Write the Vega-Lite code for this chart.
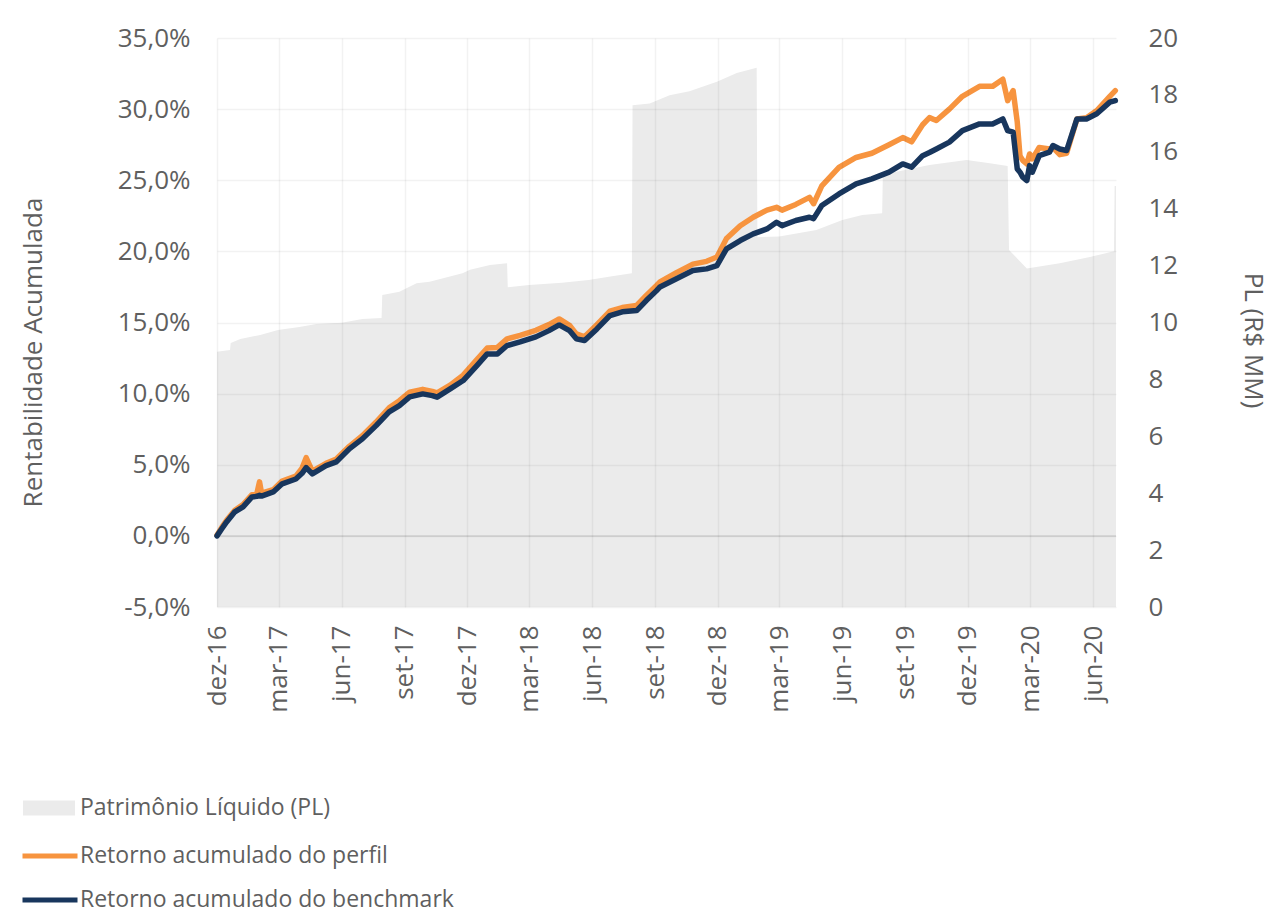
{
  "$schema": "https://vega.github.io/schema/vega-lite/v6.json",
  "width": 899,
  "height": 569,
  "autosize": {"type": "none"},
  "padding": {"left": 217, "top": 38, "right": 158, "bottom": 307},
  "background": "white",
  "config": {
    "view": {"stroke": null},
    "font": "Open Sans",
    "axis": {
      "labelFont": "Open Sans", "titleFont": "Open Sans",
      "labelColor": "#5f5f5f", "titleColor": "#5f5f5f",
      "labelFontSize": 26, "titleFontSize": 26, "titleFontWeight": "normal",
      "ticks": false, "domain": false,
      "gridColor": "#000000", "gridOpacity": 0.05, "gridWidth": 1.5
    }
  },
  "datasets": {
    "pl": [
      {"date": "2016-12-01", "pl": 8.97},
      {"date": "2016-12-20", "pl": 9.03},
      {"date": "2016-12-21", "pl": 9.28},
      {"date": "2017-01-04", "pl": 9.42},
      {"date": "2017-02-02", "pl": 9.56},
      {"date": "2017-02-28", "pl": 9.74},
      {"date": "2017-03-31", "pl": 9.84},
      {"date": "2017-04-25", "pl": 9.95},
      {"date": "2017-06-01", "pl": 9.99},
      {"date": "2017-07-01", "pl": 10.12},
      {"date": "2017-07-29", "pl": 10.16},
      {"date": "2017-07-30", "pl": 10.97},
      {"date": "2017-08-24", "pl": 11.08},
      {"date": "2017-09-18", "pl": 11.38},
      {"date": "2017-10-07", "pl": 11.43},
      {"date": "2017-11-24", "pl": 11.73},
      {"date": "2017-12-05", "pl": 11.85},
      {"date": "2018-01-03", "pl": 12.02},
      {"date": "2018-01-28", "pl": 12.08},
      {"date": "2018-01-29", "pl": 11.24},
      {"date": "2018-03-01", "pl": 11.32},
      {"date": "2018-04-18", "pl": 11.40},
      {"date": "2018-05-27", "pl": 11.49},
      {"date": "2018-06-30", "pl": 11.63},
      {"date": "2018-07-29", "pl": 11.73},
      {"date": "2018-07-30", "pl": 17.64},
      {"date": "2018-08-24", "pl": 17.70},
      {"date": "2018-09-22", "pl": 17.99},
      {"date": "2018-10-21", "pl": 18.13},
      {"date": "2018-11-30", "pl": 18.46},
      {"date": "2018-12-29", "pl": 18.77},
      {"date": "2019-01-27", "pl": 18.95},
      {"date": "2019-01-28", "pl": 13.0},
      {"date": "2019-03-01", "pl": 13.02},
      {"date": "2019-04-24", "pl": 13.25},
      {"date": "2019-06-01", "pl": 13.60},
      {"date": "2019-06-30", "pl": 13.78},
      {"date": "2019-07-29", "pl": 13.84},
      {"date": "2019-07-30", "pl": 15.2},
      {"date": "2019-10-06", "pl": 15.54},
      {"date": "2019-11-29", "pl": 15.71},
      {"date": "2020-01-02", "pl": 15.6},
      {"date": "2020-01-28", "pl": 15.5},
      {"date": "2020-01-30", "pl": 12.55},
      {"date": "2020-02-25", "pl": 11.9},
      {"date": "2020-04-13", "pl": 12.08},
      {"date": "2020-05-27", "pl": 12.3},
      {"date": "2020-06-28", "pl": 12.49},
      {"date": "2020-07-01", "pl": 12.5},
      {"date": "2020-07-02", "pl": 14.8},
      {"date": "2020-07-04", "pl": 14.8}
    ],
    "ret": [
      {"date": "2016-12-01", "perfil": 0.05, "benchmark": 0.0},
      {"date": "2016-12-08", "perfil": 0.6, "benchmark": 0.5},
      {"date": "2016-12-15", "perfil": 1.1, "benchmark": 0.98},
      {"date": "2016-12-27", "perfil": 1.8, "benchmark": 1.69},
      {"date": "2017-01-08", "perfil": 2.2, "benchmark": 2.04},
      {"date": "2017-01-21", "perfil": 2.9, "benchmark": 2.74},
      {"date": "2017-01-28", "perfil": 2.95, "benchmark": 2.78},
      {"date": "2017-02-01", "perfil": 3.8, "benchmark": 2.85},
      {"date": "2017-02-04", "perfil": 3.0, "benchmark": 2.8},
      {"date": "2017-02-21", "perfil": 3.25, "benchmark": 3.09},
      {"date": "2017-03-06", "perfil": 3.85, "benchmark": 3.66},
      {"date": "2017-03-26", "perfil": 4.2, "benchmark": 4.0},
      {"date": "2017-04-04", "perfil": 4.75, "benchmark": 4.4},
      {"date": "2017-04-10", "perfil": 5.5, "benchmark": 4.8},
      {"date": "2017-04-19", "perfil": 4.55, "benchmark": 4.36},
      {"date": "2017-05-09", "perfil": 5.1, "benchmark": 4.94},
      {"date": "2017-05-24", "perfil": 5.4, "benchmark": 5.2},
      {"date": "2017-06-12", "perfil": 6.3, "benchmark": 6.12},
      {"date": "2017-07-01", "perfil": 7.05, "benchmark": 6.82},
      {"date": "2017-07-21", "perfil": 8.0, "benchmark": 7.75},
      {"date": "2017-08-09", "perfil": 9.0, "benchmark": 8.72},
      {"date": "2017-08-24", "perfil": 9.5, "benchmark": 9.16},
      {"date": "2017-09-08", "perfil": 10.1, "benchmark": 9.77},
      {"date": "2017-09-27", "perfil": 10.3, "benchmark": 9.98},
      {"date": "2017-10-11", "perfil": 10.15, "benchmark": 9.86},
      {"date": "2017-10-18", "perfil": 10.05, "benchmark": 9.75},
      {"date": "2017-11-06", "perfil": 10.6, "benchmark": 10.33},
      {"date": "2017-11-25", "perfil": 11.3, "benchmark": 10.92},
      {"date": "2017-12-15", "perfil": 12.4, "benchmark": 11.97},
      {"date": "2017-12-30", "perfil": 13.2, "benchmark": 12.79},
      {"date": "2018-01-14", "perfil": 13.25, "benchmark": 12.79},
      {"date": "2018-01-28", "perfil": 13.85, "benchmark": 13.38},
      {"date": "2018-02-16", "perfil": 14.1, "benchmark": 13.64},
      {"date": "2018-03-11", "perfil": 14.45, "benchmark": 13.99},
      {"date": "2018-03-30", "perfil": 14.85, "benchmark": 14.43},
      {"date": "2018-04-14", "perfil": 15.25, "benchmark": 14.83},
      {"date": "2018-04-29", "perfil": 14.8, "benchmark": 14.43},
      {"date": "2018-05-09", "perfil": 14.2, "benchmark": 13.85},
      {"date": "2018-05-21", "perfil": 14.0, "benchmark": 13.73},
      {"date": "2018-06-08", "perfil": 14.85, "benchmark": 14.55},
      {"date": "2018-06-27", "perfil": 15.8, "benchmark": 15.49},
      {"date": "2018-07-15", "perfil": 16.05, "benchmark": 15.75},
      {"date": "2018-08-05", "perfil": 16.2, "benchmark": 15.84},
      {"date": "2018-08-19", "perfil": 16.9, "benchmark": 16.54},
      {"date": "2018-09-03", "perfil": 17.6, "benchmark": 17.24},
      {"date": "2018-09-08", "perfil": 17.85, "benchmark": 17.5},
      {"date": "2018-10-02", "perfil": 18.5, "benchmark": 18.07},
      {"date": "2018-10-26", "perfil": 19.1, "benchmark": 18.65},
      {"date": "2018-11-15", "perfil": 19.3, "benchmark": 18.77},
      {"date": "2018-11-30", "perfil": 19.6, "benchmark": 19.0},
      {"date": "2018-12-14", "perfil": 20.9, "benchmark": 20.18},
      {"date": "2019-01-03", "perfil": 21.8, "benchmark": 20.76},
      {"date": "2019-01-22", "perfil": 22.4, "benchmark": 21.23},
      {"date": "2019-02-11", "perfil": 22.9, "benchmark": 21.58},
      {"date": "2019-02-25", "perfil": 23.1, "benchmark": 22.05},
      {"date": "2019-03-05", "perfil": 22.9, "benchmark": 21.81},
      {"date": "2019-03-25", "perfil": 23.3, "benchmark": 22.17},
      {"date": "2019-04-14", "perfil": 23.8, "benchmark": 22.4},
      {"date": "2019-04-20", "perfil": 23.35, "benchmark": 22.3},
      {"date": "2019-05-02", "perfil": 24.6, "benchmark": 23.22},
      {"date": "2019-05-27", "perfil": 25.9, "benchmark": 24.04},
      {"date": "2019-06-21", "perfil": 26.6, "benchmark": 24.75},
      {"date": "2019-07-14", "perfil": 26.9, "benchmark": 25.1},
      {"date": "2019-08-08", "perfil": 27.5, "benchmark": 25.57},
      {"date": "2019-08-28", "perfil": 28.0, "benchmark": 26.15},
      {"date": "2019-09-10", "perfil": 27.7, "benchmark": 25.92},
      {"date": "2019-09-26", "perfil": 28.9, "benchmark": 26.73},
      {"date": "2019-10-06", "perfil": 29.4, "benchmark": 26.95},
      {"date": "2019-10-16", "perfil": 29.2, "benchmark": 27.2},
      {"date": "2019-11-04", "perfil": 30.0, "benchmark": 27.68},
      {"date": "2019-11-23", "perfil": 30.9, "benchmark": 28.49},
      {"date": "2019-12-18", "perfil": 31.6, "benchmark": 28.96},
      {"date": "2020-01-06", "perfil": 31.6, "benchmark": 28.96},
      {"date": "2020-01-21", "perfil": 32.1, "benchmark": 29.31},
      {"date": "2020-01-28", "perfil": 30.6, "benchmark": 28.49},
      {"date": "2020-02-05", "perfil": 31.3, "benchmark": 28.38},
      {"date": "2020-02-11", "perfil": 29.1, "benchmark": 25.8},
      {"date": "2020-02-15", "perfil": 26.7, "benchmark": 25.57},
      {"date": "2020-02-19", "perfil": 26.4, "benchmark": 25.22},
      {"date": "2020-02-25", "perfil": 26.15, "benchmark": 24.98},
      {"date": "2020-02-29", "perfil": 26.85, "benchmark": 26.03},
      {"date": "2020-03-04", "perfil": 26.5, "benchmark": 25.57},
      {"date": "2020-03-14", "perfil": 27.3, "benchmark": 26.73},
      {"date": "2020-03-29", "perfil": 27.2, "benchmark": 26.97},
      {"date": "2020-04-03", "perfil": 27.3, "benchmark": 27.44},
      {"date": "2020-04-13", "perfil": 26.8, "benchmark": 27.2},
      {"date": "2020-04-23", "perfil": 26.9, "benchmark": 27.09},
      {"date": "2020-05-08", "perfil": 29.3, "benchmark": 29.31},
      {"date": "2020-05-22", "perfil": 29.4, "benchmark": 29.31},
      {"date": "2020-06-06", "perfil": 29.9, "benchmark": 29.67},
      {"date": "2020-06-25", "perfil": 30.9, "benchmark": 30.49},
      {"date": "2020-07-03", "perfil": 31.3, "benchmark": 30.6}
    ]
  },
  "layer": [
    {
      "data": {"name": "pl"},
      "mark": {"type": "area", "interpolate": "linear"},
      "encoding": {
        "x": {
          "field": "date", "type": "temporal",
          "scale": {"type": "utc", "domain": [{"year": 2016, "month": 12, "date": 1, "utc": true}, {"year": 2020, "month": 7, "date": 4, "utc": true}]},
          "axis": {
            "title": null,
            "values": [
              {"year": 2016, "month": 12, "date": 1, "utc": true},
              {"year": 2017, "month": 3, "date": 1, "utc": true},
              {"year": 2017, "month": 6, "date": 1, "utc": true},
              {"year": 2017, "month": 9, "date": 1, "utc": true},
              {"year": 2017, "month": 12, "date": 1, "utc": true},
              {"year": 2018, "month": 3, "date": 1, "utc": true},
              {"year": 2018, "month": 6, "date": 1, "utc": true},
              {"year": 2018, "month": 9, "date": 1, "utc": true},
              {"year": 2018, "month": 12, "date": 1, "utc": true},
              {"year": 2019, "month": 3, "date": 1, "utc": true},
              {"year": 2019, "month": 6, "date": 1, "utc": true},
              {"year": 2019, "month": 9, "date": 1, "utc": true},
              {"year": 2019, "month": 12, "date": 1, "utc": true},
              {"year": 2020, "month": 3, "date": 1, "utc": true},
              {"year": 2020, "month": 6, "date": 1, "utc": true}
            ],
            "labelExpr": "['jan','fev','mar','abr','mai','jun','jul','ago','set','out','nov','dez'][utcmonth(datum.value)] + '-' + utcFormat(datum.value, '%y')",
            "labelAngle": -90,
            "labelAlign": "right",
            "labelBaseline": "middle",
            "labelPadding": 18,
            "grid": true,
            "zindex": 1
          }
        },
        "y": {
          "field": "pl", "type": "quantitative",
          "scale": {"domain": [0, 20], "nice": false, "zero": false},
          "axis": {
            "orient": "right",
            "title": "PL (R$ MM)",
            "values": [0, 2, 4, 6, 8, 10, 12, 14, 16, 18, 20],
            "format": "d",
            "labelPadding": 32,
            "labelAlign": "left",
            "grid": false,
            "titleAngle": 90,
            "titleX": 136,
            "titleY": 302,
            "titleAlign": "center",
            "titleBaseline": "middle"
          }
        },
        "fill": {
          "datum": "Patrimônio Líquido (PL)",
          "scale": {"domain": ["Patrimônio Líquido (PL)"], "range": ["#ebebeb"]},
          "legend": {
            "orient": "none", "legendX": -194, "legendY": 757,
            "title": null, "padding": 0,
            "symbolType": "M-1,-0.29H1V0.29H-1Z", "symbolSize": 2704, "symbolStrokeWidth": 0,
            "symbolOpacity": 1,
            "labelOffset": 5, "labelFontSize": 23, "labelColor": "#5f5f5f", "labelFont": "Open Sans",
            "labelLimit": 0, "clipHeight": 26
          }
        }
      }
    },
    {
      "data": {"values": [{}]},
      "mark": {"type": "rule", "color": "#d8d8d8", "strokeWidth": 2},
      "encoding": {"y": {"datum": 0, "scale": {"domain": [-5, 35], "nice": false}, "axis": null}}
    },
    {
      "data": {"name": "ret"},
      "layer": [
        {
          "mark": {"type": "line", "strokeWidth": 5.5, "strokeJoin": "round", "strokeCap": "round"},
          "encoding": {
            "x": {"field": "date", "type": "temporal"},
            "y": {
              "field": "perfil", "type": "quantitative",
              "scale": {"domain": [-5, 35], "nice": false},
              "title": "Rentabilidade Acumulada",
              "axis": {
                "orient": "left",
                "values": [-5, 0, 5, 10, 15, 20, 25, 30, 35],
                "labelExpr": "replace(replace(format(datum.value, '.1f'), '.', ','), '\u2212', '-') + '%'",
                "labelPadding": 27,
                "grid": true,
                "zindex": 1,
                "titleAngle": 270,
                "titleX": -184,
                "titleY": 314,
                "titleAlign": "center",
                "titleBaseline": "middle"
              }
            },
            "stroke": {
              "datum": "Retorno acumulado do perfil",
              "scale": {"domain": ["Retorno acumulado do perfil", "Retorno acumulado do benchmark"], "range": ["#f7943f", "#18365d"]},
              "legend": {
                "orient": "none", "legendX": -197, "legendY": 805,
                "title": null, "padding": 0,
                "symbolType": "stroke", "symbolSize": 3025, "symbolStrokeWidth": 5,
                "labelOffset": 0, "labelFontSize": 23, "labelColor": "#5f5f5f", "labelFont": "Open Sans",
                "labelLimit": 0, "clipHeight": 26, "rowPadding": 18
              }
            }
          }
        },
        {
          "mark": {"type": "line", "strokeWidth": 5.5, "strokeJoin": "round", "strokeCap": "round"},
          "encoding": {
            "x": {"field": "date", "type": "temporal"},
            "y": {"field": "benchmark", "type": "quantitative", "title": "Rentabilidade Acumulada"},
            "stroke": {"datum": "Retorno acumulado do benchmark"}
          }
        }
      ]
    }
  ],
  "resolve": {"scale": {"y": "independent"}}
}
